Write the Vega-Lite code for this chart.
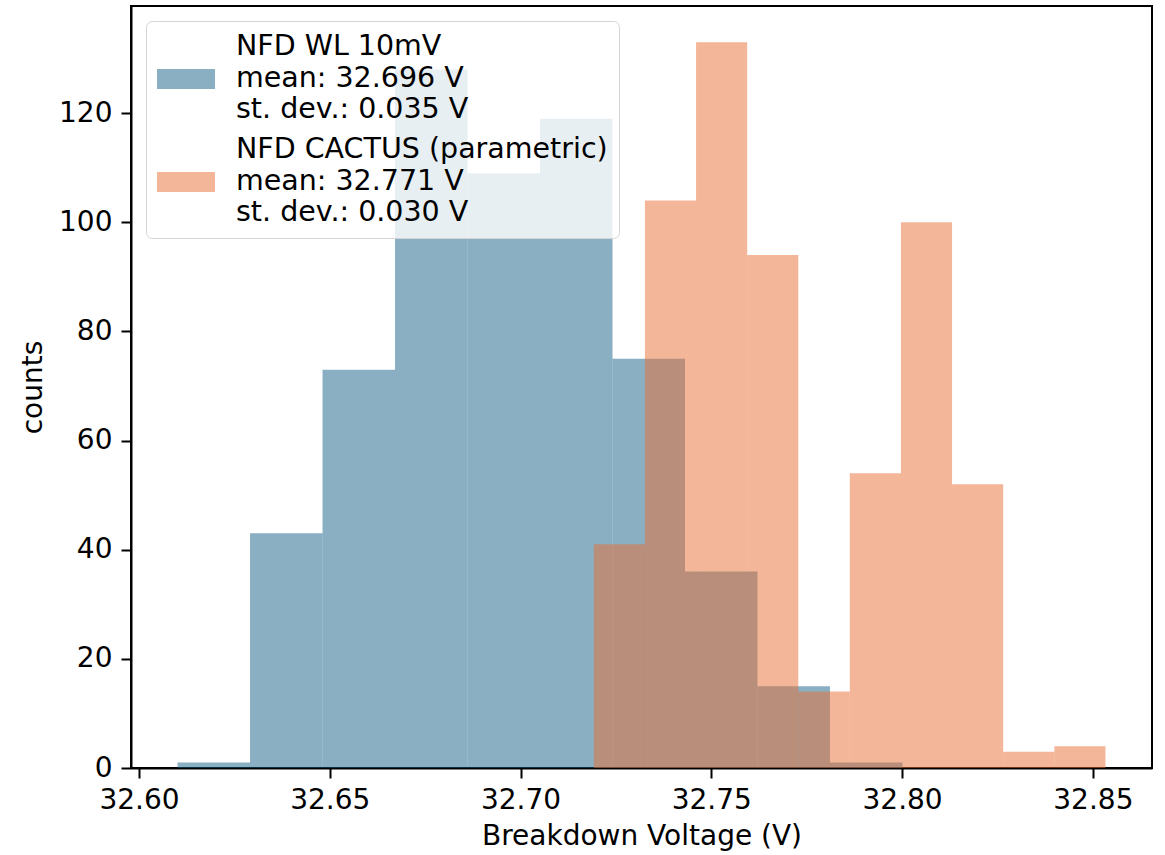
{
  "$schema": "https://vega.github.io/schema/vega-lite/v6.json",
  "width": 1021,
  "height": 762,
  "autosize": {"type": "none"},
  "padding": {"left": 131, "top": 6, "right": 13, "bottom": 87},
  "background": "white",
  "config": {
    "font": "DejaVu Sans",
    "view": {"stroke": "black", "strokeWidth": 2},
    "axis": {
      "domain": true, "domainColor": "black", "domainWidth": 2,
      "ticks": true, "tickColor": "black", "tickWidth": 2, "tickSize": 10,
      "labelColor": "black", "labelFontSize": 28, "labelFont": "DejaVu Sans",
      "labelFlush": false, "labelOverlap": false,
      "titleFontSize": 28, "titleFontWeight": "normal", "titleColor": "black", "titleFont": "DejaVu Sans",
      "grid": false, "zindex": 1, "labelPadding": 8
    },
    "axisX": {"titlePadding": 8},
    "axisY": {"labelPadding": 9, "titlePadding": 11},
    "style": {"guide-label": {"lineHeight": 31.7}}
  },
  "data": {
    "values": [
      {"s": "NFD WL 10mV|mean: 32.696 V|st. dev.: 0.035 V", "x0": 32.6101, "x1": 32.6291, "n": 1},
      {"s": "NFD WL 10mV|mean: 32.696 V|st. dev.: 0.035 V", "x0": 32.6291, "x1": 32.6481, "n": 43},
      {"s": "NFD WL 10mV|mean: 32.696 V|st. dev.: 0.035 V", "x0": 32.6481, "x1": 32.6671, "n": 73},
      {"s": "NFD WL 10mV|mean: 32.696 V|st. dev.: 0.035 V", "x0": 32.6671, "x1": 32.6861, "n": 128},
      {"s": "NFD WL 10mV|mean: 32.696 V|st. dev.: 0.035 V", "x0": 32.6861, "x1": 32.7051, "n": 109},
      {"s": "NFD WL 10mV|mean: 32.696 V|st. dev.: 0.035 V", "x0": 32.7051, "x1": 32.7241, "n": 119},
      {"s": "NFD WL 10mV|mean: 32.696 V|st. dev.: 0.035 V", "x0": 32.7241, "x1": 32.7431, "n": 75},
      {"s": "NFD WL 10mV|mean: 32.696 V|st. dev.: 0.035 V", "x0": 32.7431, "x1": 32.7621, "n": 36},
      {"s": "NFD WL 10mV|mean: 32.696 V|st. dev.: 0.035 V", "x0": 32.7621, "x1": 32.7811, "n": 15},
      {"s": "NFD WL 10mV|mean: 32.696 V|st. dev.: 0.035 V", "x0": 32.7811, "x1": 32.8001, "n": 1},
      {"s": "NFD CACTUS (parametric)|mean: 32.771 V|st. dev.: 0.030 V", "x0": 32.7192, "x1": 32.7326, "n": 41},
      {"s": "NFD CACTUS (parametric)|mean: 32.771 V|st. dev.: 0.030 V", "x0": 32.7326, "x1": 32.746, "n": 104},
      {"s": "NFD CACTUS (parametric)|mean: 32.771 V|st. dev.: 0.030 V", "x0": 32.746, "x1": 32.7594, "n": 133},
      {"s": "NFD CACTUS (parametric)|mean: 32.771 V|st. dev.: 0.030 V", "x0": 32.7594, "x1": 32.7728, "n": 94},
      {"s": "NFD CACTUS (parametric)|mean: 32.771 V|st. dev.: 0.030 V", "x0": 32.7728, "x1": 32.7863, "n": 14},
      {"s": "NFD CACTUS (parametric)|mean: 32.771 V|st. dev.: 0.030 V", "x0": 32.7863, "x1": 32.7997, "n": 54},
      {"s": "NFD CACTUS (parametric)|mean: 32.771 V|st. dev.: 0.030 V", "x0": 32.7997, "x1": 32.8131, "n": 100},
      {"s": "NFD CACTUS (parametric)|mean: 32.771 V|st. dev.: 0.030 V", "x0": 32.8131, "x1": 32.8265, "n": 52},
      {"s": "NFD CACTUS (parametric)|mean: 32.771 V|st. dev.: 0.030 V", "x0": 32.8265, "x1": 32.8399, "n": 3},
      {"s": "NFD CACTUS (parametric)|mean: 32.771 V|st. dev.: 0.030 V", "x0": 32.8399, "x1": 32.8533, "n": 4}
    ]
  },
  "mark": {"type": "rect", "opacity": 0.5},
  "encoding": {
    "x": {
      "field": "x0", "type": "quantitative",
      "title": "Breakdown Voltage (V)",
      "scale": {"domain": [32.5979, 32.8655], "nice": false, "zero": false},
      "axis": {"values": [32.6, 32.65, 32.7, 32.75, 32.8, 32.85], "format": ".2f"}
    },
    "x2": {"field": "x1"},
    "y": {
      "field": "n", "type": "quantitative", "stack": null,
      "title": "counts",
      "scale": {"domain": [0, 139.65], "nice": false},
      "axis": {"values": [0, 20, 40, 60, 80, 100, 120]}
    },
    "y2": {"datum": 0},
    "color": {
      "field": "s", "type": "nominal",
      "scale": {
        "domain": ["NFD WL 10mV|mean: 32.696 V|st. dev.: 0.035 V", "NFD CACTUS (parametric)|mean: 32.771 V|st. dev.: 0.030 V"],
        "range": ["#155f85", "#e76d33"]
      },
      "legend": {
        "title": null, "orient": "none", "legendX": 15, "legendY": 15,
        "labelExpr": "split(datum.label, '|')",
        "labelFontSize": 28.5, "labelFont": "DejaVu Sans", "labelColor": "black",
        "labelBaseline": "bottom",
        "labelLimit": 1000, "labelOffset": 21,
        "symbolType": "M-1,0.275H1V0.965H-1Z", "symbolSize": 3364,
        "symbolStrokeWidth": 0, "symbolOpacity": 0.5,
        "padding": 11, "rowPadding": 11,
        "fillColor": "rgba(255,255,255,0.8)", "strokeColor": "#d4d4d4",
        "cornerRadius": 6
      }
    }
  }
}
